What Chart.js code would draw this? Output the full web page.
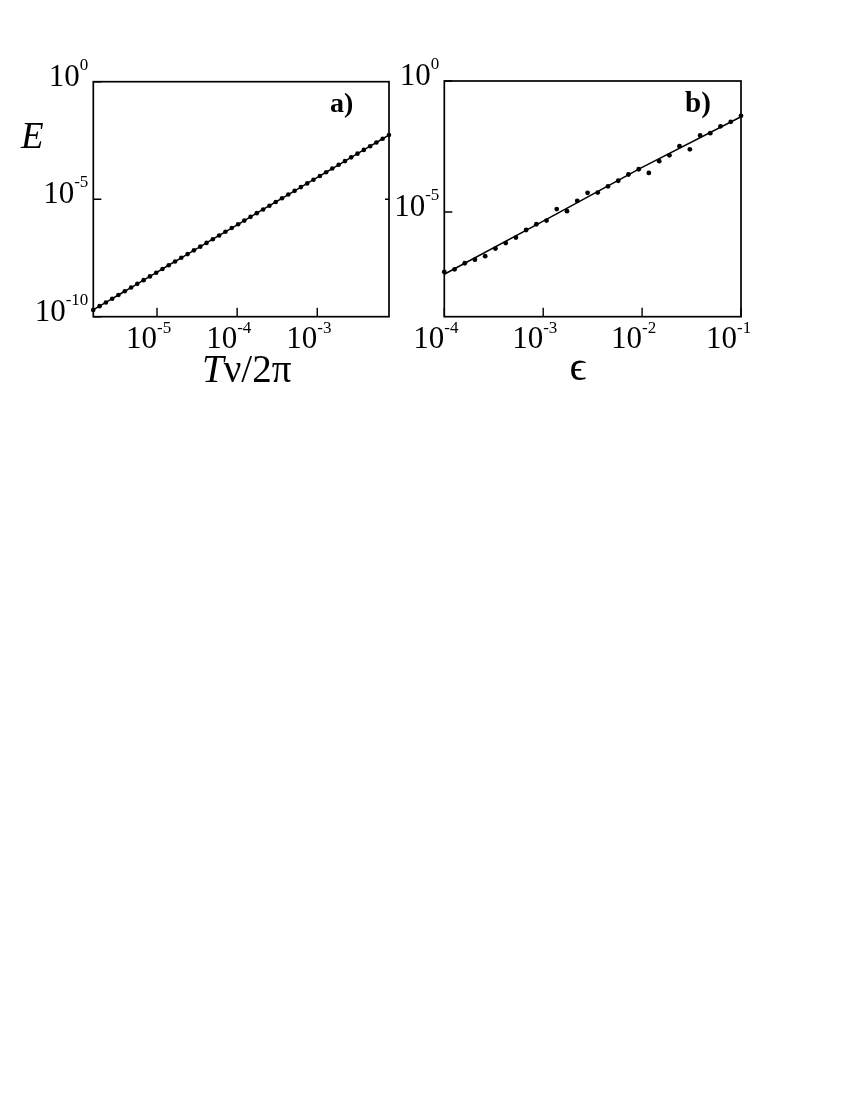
<!DOCTYPE html>
<html>
<head>
<meta charset="utf-8">
<script src="https://cdn.jsdelivr.net/npm/chart.js@4.4.1/dist/chart.umd.min.js"></script>
<style>
  html, body { margin: 0; padding: 0; background: #fff; }
  #page { position: relative; width: 850px; height: 1100px; background: #fff; }
  canvas { position: absolute; top: 0; }
  #chartA { left: 0; }
  #chartB { left: 390px; }
</style>
</head>
<body>
<div id="page">
  <canvas id="chartA" width="420" height="400"></canvas>
  <canvas id="chartB" width="460" height="400"></canvas>
</div>
<script>
/* Panel a: E vs T nu / 2 pi */
const aX = [1.60e-6, 1.92e-6, 2.30e-6, 2.76e-6, 3.30e-6, 3.96e-6, 4.75e-6, 5.68e-6,
            6.81e-6, 8.16e-6, 9.78e-6, 1.17e-5, 1.40e-5, 1.68e-5, 2.01e-5, 2.41e-5,
            2.89e-5, 3.47e-5, 4.15e-5, 4.97e-5, 5.96e-5, 7.14e-5, 8.56e-5, 1.03e-4,
            1.23e-4, 1.47e-4, 1.76e-4, 2.11e-4, 2.53e-4, 3.03e-4, 3.63e-4, 4.35e-4,
            5.22e-4, 6.25e-4, 7.49e-4, 8.97e-4, 1.08e-3, 1.29e-3, 1.54e-3, 1.85e-3,
            2.22e-3, 2.65e-3, 3.18e-3, 3.81e-3, 4.57e-3, 5.47e-3, 6.55e-3, 7.85e-3];
const aE = [1.95e-10, 2.81e-10, 4.04e-10, 5.82e-10, 8.38e-10, 1.21e-9, 1.74e-9, 2.50e-9,
            3.60e-9, 5.18e-9, 7.46e-9, 1.07e-8, 1.55e-8, 2.23e-8, 3.21e-8, 4.62e-8,
            6.65e-8, 9.57e-8, 1.38e-7, 1.99e-7, 2.86e-7, 4.11e-7, 5.92e-7, 8.53e-7,
            1.23e-6, 1.77e-6, 2.55e-6, 3.67e-6, 5.28e-6, 7.60e-6, 1.09e-5, 1.58e-5,
            2.27e-5, 3.27e-5, 4.70e-5, 6.77e-5, 9.74e-5, 1.40e-4, 2.02e-4, 2.91e-4,
            4.19e-4, 6.03e-4, 8.68e-4, 1.25e-3, 1.80e-3, 2.59e-3, 3.73e-3, 5.37e-3];
const aXTicks = [1e-5, 1e-4, 1e-3];
const aXTickExp = ['-5', '-4', '-3'];
const aYTicks = [1, 1e-5, 1e-10];
const aYTickExp = ['0', '-5', '-10'];

/* Panel b: E vs epsilon */
const bEps = [1.00e-4, 1.27e-4, 1.61e-4, 2.04e-4, 2.59e-4, 3.29e-4, 4.18e-4, 5.30e-4,
              6.72e-4, 8.53e-4, 1.08e-3, 1.37e-3, 1.74e-3, 2.21e-3, 2.81e-3, 3.56e-3,
              4.52e-3, 5.74e-3, 7.28e-3, 9.24e-3, 1.17e-2, 1.49e-2, 1.89e-2, 2.39e-2,
              3.04e-2, 3.86e-2, 4.89e-2, 6.21e-2, 7.88e-2, 1.00e-1];
const bE = [5.13e-8, 6.46e-8, 1.10e-7, 1.51e-7, 2.04e-7, 3.98e-7, 6.46e-7, 1.05e-6,
            2.04e-6, 3.39e-6, 4.68e-6, 1.29e-5, 1.07e-5, 2.63e-5, 5.37e-5, 5.50e-5,
            9.55e-5, 1.55e-4, 2.69e-4, 4.27e-4, 3.09e-4, 8.71e-4, 1.45e-3, 3.24e-3,
            2.45e-3, 8.32e-3, 1.02e-2, 1.86e-2, 2.75e-2, 4.68e-2];
const bFitEps = [1e-4, 1e-3, 1e-2, 1e-1];
const bFitE = [4.17e-8, 4.47e-6, 5.01e-4, 4.3e-2];
const bXTicks = [1e-4, 1e-3, 1e-2, 1e-1];
const bXTickExp = ['-4', '-3', '-2', '-1'];
const bYTicks = [1, 1e-5];
const bYTickExp = ['0', '-5'];

const SERIF = '"Liberation Serif", "DejaVu Serif", serif';

/* frame, inward ticks, 10^n labels and titles */
const framePlugin = {
    id: 'frame',
    afterDatasetsDraw(chart, args, opts) {
        const { ctx, chartArea: a, scales: { x, y } } = chart;
        ctx.save();
        ctx.strokeStyle = '#000';
        ctx.fillStyle = '#000';
        ctx.lineWidth = 1.7;
        ctx.strokeRect(a.left, a.top, a.right - a.left, a.bottom - a.top);

        ctx.lineWidth = 1.4;
        ctx.beginPath();
        opts.xTicks.forEach(v => {
            const px = x.getPixelForValue(v);
            ctx.moveTo(px, a.bottom);
            ctx.lineTo(px, a.bottom - 9);
        });
        opts.yTicks.forEach(v => {
            const py = y.getPixelForValue(v);
            ctx.moveTo(a.left, py);
            ctx.lineTo(a.left + 8, py);
        });
        (opts.rightTicks || []).forEach(v => {
            const py = y.getPixelForValue(v);
            ctx.moveTo(a.right, py);
            ctx.lineTo(a.right - 4, py);
        });
        ctx.stroke();

        const mainFont = '31px ' + SERIF;
        const expFont = '17px ' + SERIF;
        ctx.textBaseline = 'alphabetic';

        // x tick labels
        opts.xTicks.forEach((v, i) => {
            const px = Math.min(x.getPixelForValue(v), a.right - 4);
            const base = a.bottom + 31;
            ctx.font = mainFont;
            ctx.textAlign = 'right';
            ctx.fillText('10', px, base);
            ctx.font = expFont;
            ctx.textAlign = 'left';
            ctx.fillText(opts.xExp[i], px, base - 15);
        });

        // y tick labels
        opts.yTicks.forEach((v, i) => {
            const py = y.getPixelForValue(v);
            const base = py + 4;
            ctx.font = expFont;
            const w = ctx.measureText(opts.yExp[i]).width;
            ctx.textAlign = 'right';
            ctx.fillText(opts.yExp[i], a.left - 5, base - 16);
            ctx.font = mainFont;
            ctx.fillText('10', a.left - 5 - w, base);
        });

        // titles
        opts.titles.forEach(t => {
            let cx = t.x;
            t.parts.forEach(p => {
                ctx.font = p.font;
                ctx.textAlign = t.align || 'left';
                ctx.fillText(p.text, cx, t.y);
                cx += ctx.measureText(p.text).width;
            });
        });
        ctx.restore();
    }
};

function pts(xs, ys) {
    return xs.map((v, i) => ({ x: v, y: ys[i] }));
}

function baseOptions(xMin, xMax, yMin, yMax, padding, frame) {
    return {
        responsive: false,
        animation: false,
        devicePixelRatio: 1,
        layout: { padding },
        scales: {
            x: { type: 'logarithmic', min: xMin, max: xMax, display: false },
            y: { type: 'logarithmic', min: yMin, max: yMax, display: false }
        },
        plugins: {
            legend: { display: false },
            tooltip: { enabled: false },
            frame
        }
    };
}

new Chart(document.getElementById('chartA'), {
    type: 'scatter',
    data: {
        datasets: [{
            data: pts(aX, aE),
            showLine: true,
            borderColor: '#000',
            borderWidth: 1.5,
            pointRadius: 2.3,
            pointBackgroundColor: '#000',
            pointBorderWidth: 0,
            clip: false
        }]
    },
    options: baseOptions(1.603e-6, 7.86e-3, 1e-10, 1,
        { left: 93.3, right: 31, top: 81.7, bottom: 83.3 },
        {
            xTicks: aXTicks, xExp: aXTickExp,
            yTicks: aYTicks, yExp: aYTickExp,
            rightTicks: [1e-5],
            titles: [
                { x: 21, y: 148, parts: [{ text: 'E', font: 'italic 37px ' + SERIF }] },
                { x: 202, y: 382, parts: [
                    { text: 'T', font: 'italic 39px ' + SERIF },
                    { text: 'ν/2π', font: '39px ' + SERIF }
                ] },
                { x: 330, y: 112, parts: [{ text: 'a)', font: 'bold 28px ' + SERIF }] }
            ]
        }),
    plugins: [framePlugin]
});

new Chart(document.getElementById('chartB'), {
    type: 'scatter',
    data: {
        datasets: [{
            data: pts(bEps, bE),
            showLine: false,
            pointRadius: 2.4,
            pointBackgroundColor: '#000',
            pointBorderWidth: 0,
            clip: false
        }, {
            data: pts(bFitEps, bFitE),
            showLine: true,
            borderColor: '#000',
            borderWidth: 1.5,
            pointRadius: 0,
            clip: false
        }]
    },
    options: baseOptions(1e-4, 1e-1, 1e-9, 1,
        { left: 54.3, right: 109, top: 81, bottom: 83.3 },
        {
            xTicks: bXTicks, xExp: bXTickExp,
            yTicks: bYTicks, yExp: bYTickExp,
            titles: [
                { x: 188, y: 380, align: 'center', parts: [{ text: 'ϵ', font: '42px ' + SERIF }] },
                { x: 295, y: 112, parts: [{ text: 'b)', font: 'bold 29px ' + SERIF }] }
            ]
        }),
    plugins: [framePlugin]
});
</script>
</body>
</html>
